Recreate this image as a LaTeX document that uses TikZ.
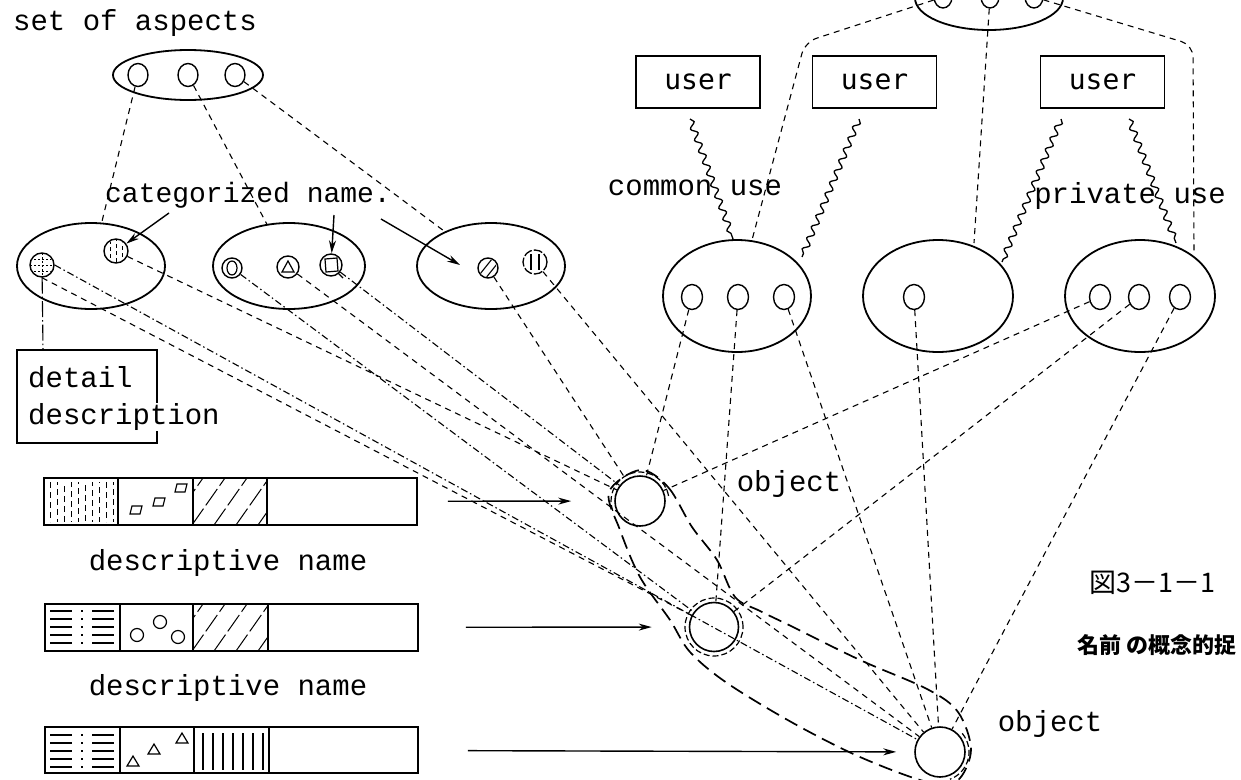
\documentclass[tikz,border=0pt]{standalone}
\usepackage{fontspec}
\setmonofont{Liberation Mono}
\newfontfamily\usrfont{DejaVu Sans Mono}
\newfontfamily\jpfont{Noto Sans CJK JP}
\usetikzlibrary{shapes.geometric,decorations.pathmorphing,arrows.meta,calc}
\begin{document}
\begin{tikzpicture}[x=1pt,y=-1pt,
  bigell/.style={ellipse, draw, line width=1.8pt, inner sep=0pt},
  smell/.style={ellipse, draw, line width=1.4pt, inner sep=0pt},
  smcirc/.style={circle, draw, line width=1.4pt, inner sep=0pt},
  ubox/.style={draw, line width=1.6pt, inner sep=0pt},
  lbl/.style={font=\ttfamily\fontsize{29}{31}\selectfont, inner sep=0pt},
  dsh/.style={line width=1.1pt, dash pattern=on 6pt off 5pt},
  dshdot/.style={line width=1.1pt, dash pattern=on 7pt off 3pt on 1.5pt off 3pt},
  sdsh/.style={line width=1.2pt, dash pattern=on 6pt off 3pt},
  ldsh/.style={line width=1.7pt, dash pattern=on 14pt off 7pt},
  wav/.style={line width=1.3pt, decorate, decoration={snake, amplitude=3pt, segment length=12pt}},
  arw/.style={line width=1.4pt, -{Stealth[length=13pt, width=7pt]}}
]
\useasboundingbox (0,0) rectangle (1241,779);
\fill[white] (0,0) rectangle (1241,779);
\clip (0,0) rectangle (1241,779);

% ---------- left: aspects ----------
\node[lbl] (tset) at (135,23) {set of aspects};
\node[bigell, minimum width=150pt, minimum height=50pt] (A) at (188,75) {};
\foreach \n/\x in {a1/138,a2/188,a3/235}
  \node[smell, minimum width=20pt, minimum height=23pt] (\n) at (\x,75) {};

\node[bigell, minimum width=148pt, minimum height=86pt] (E1) at (91,266) {};
\node[bigell, minimum width=152pt, minimum height=86pt] (E2) at (289,266) {};
\node[bigell, minimum width=148pt, minimum height=86pt] (E3) at (491,266) {};

\draw[dsh] (a1) -- (E1);
\draw[dsh] (a2) -- (E2);
\draw[dsh] (a3) -- (E3);

% small categorized symbols
\node[smcirc, minimum size=24pt] (p1) at (42,265) {};
\begin{scope}
  \clip (42,265) circle[radius=11pt];
  \foreach \y in {259,265,271}
    \draw[line width=1pt, dash pattern=on 2pt off 2pt] (30,\y) -- (54,\y);
  \draw[line width=1pt, dash pattern=on 2pt off 2pt] (42,253) -- (42,277);
\end{scope}
\node[smcirc, minimum size=24pt] (p2) at (116,251) {};
\begin{scope}
  \clip (116,251) circle[radius=11pt];
  \foreach \x/\ph in {110/0,116/3,122/1}
    \draw[line width=1pt, dash pattern=on 4pt off 3pt, dash phase=\ph pt] (\x,240) -- (\x,262);
\end{scope}
\node[smcirc, minimum size=20pt] (q1) at (232,268) {};
\draw[line width=1.2pt] (232,268) ellipse[x radius=5pt, y radius=7pt];
\node[smcirc, minimum size=22pt] (q2) at (288,267) {};
\draw[line width=1.2pt] (282,272) -- (294,272) -- (288,261) -- cycle;
\node[smcirc, minimum size=22pt] (q3) at (331,265) {};
\draw[line width=1.2pt] (325,259) -- (337,258) -- (338,271) -- (326,272) -- cycle;
\draw[line width=1.1pt] (338,273) -- (343,278);
\node[smcirc, minimum size=20pt] (s1) at (488,268) {};
\begin{scope}
  \clip (488,268) circle[radius=9pt];
  \draw[line width=1.1pt] (480,274) -- (492,259);
  \draw[line width=1.1pt] (485,279) -- (497,264);
\end{scope}
\node[circle, draw, line width=1.3pt, inner sep=0pt, minimum size=24pt, dash pattern=on 9pt off 2pt] (s2) at (535,262) {};
\draw[line width=1.1pt] (531,254) -- (531,270) (539,254) -- (539,270);

\node[lbl, font=\ttfamily\fontsize{28}{30}\selectfont] (tcat) at (248,195) {categorized name.};
\coordinate (k1) at (169,213);
\coordinate (k2) at (334,215);
\coordinate (k3) at (381,219);
\coordinate (k3e) at (460,265);
\draw[arw] (k1) -- (p2);
\draw[arw] (k2) -- (q3);
\draw[arw] (k3) -- (k3e);

% detail description
\node[ubox, minimum width=140pt, minimum height=93pt] (D) at (87,396.5) {};
\node[lbl, anchor=west] (tdet) at (28,377) {detail};
\node[lbl, anchor=west, fill=white] (tdesc) at (28,417) {description};
\coordinate (dtop) at (43,350);
\draw[line width=1.1pt, dash pattern=on 16pt off 3pt on 1.5pt off 3pt] (p1) -- (dtop);

% ---------- descriptive name bars ----------
\node[ubox, minimum width=373pt, minimum height=47pt] (B1) at (230.5,501.5) {};
\draw[line width=1.4pt] (118,478) -- (118,525) (193,478) -- (193,525) (267,478) -- (267,525);
\foreach \x/\ph in {50/0,57/3,64/6,71/1,78/4,85/7,92/2,99/5,106/0,113/3}
  \draw[line width=1pt, dash pattern=on 6pt off 4pt, dash phase=\ph pt] (\x,482) -- (\x,522);
\foreach \x/\y in {136/510,159/502,181/488}
  \draw[line width=1.2pt] (\x-6,\y+4) -- (\x+4,\y+4) -- (\x+6,\y-4) -- (\x-4,\y-4) -- cycle;
\begin{scope}
  \clip (193,478) rectangle (267,525);
  \foreach \x in {170,192,214,236,258}
    \draw[line width=1pt, dash pattern=on 20pt off 4pt] (\x,525) -- (\x+33,478);
\end{scope}
\node[lbl] (tdn1) at (228,563) {descriptive name};

\node[ubox, minimum width=373pt, minimum height=47pt] (B2) at (231.5,627.5) {};
\draw[line width=1.4pt] (120,604) -- (120,651) (193,604) -- (193,651) (268,604) -- (268,651);
\foreach \y in {611,619,627,635,643} {
  \draw[line width=1.2pt] (50,\y) -- (72,\y) (92,\y) -- (114,\y);
  \draw[line width=1.6pt] (81,\y) -- (83,\y);
}
\foreach \x/\y in {137/635,160/622,178/637}
  \draw[line width=1.2pt] (\x,\y) circle[radius=6.5pt];
\begin{scope}
  \clip (193,604) rectangle (268,651);
  \foreach \x in {170,192,214,236,258}
    \draw[line width=1pt, dash pattern=on 20pt off 4pt] (\x,651) -- (\x+33,604);
\end{scope}
\node[lbl] (tdn2) at (228,688) {descriptive name};

\node[ubox, minimum width=373pt, minimum height=46pt] (B3) at (231.5,750) {};
\draw[line width=1.4pt] (120,727) -- (120,773) (194,727) -- (194,773) (269,727) -- (269,773);
\foreach \y in {735,743,751,759,767} {
  \draw[line width=1.2pt] (50,\y) -- (72,\y) (92,\y) -- (114,\y);
  \draw[line width=1.6pt] (81,\y) -- (83,\y);
}
\foreach \x/\y in {133/761,154/749,182/738}
  \draw[line width=1.2pt] (\x-6,\y+5) -- (\x+6,\y+5) -- (\x,\y-5) -- cycle;
\foreach \x in {203,213,...,263}
  \draw[line width=1.2pt] (\x,733) -- (\x,770);

% ---------- objects ----------
\node[circle, draw, line width=1.6pt, inner sep=0pt, minimum size=50pt] (O1) at (640,501) {};
\node[circle, draw, line width=1.6pt, inner sep=0pt, minimum size=49pt] (O2) at (714,627) {};
\node[circle, draw, line width=1.6pt, inner sep=0pt, minimum size=50pt] (O3) at (940,752) {};
\node[lbl] (tob1) at (789,484) {object};
\node[lbl] (tob2) at (1050,724) {object};

\draw[sdsh] ([shift={(10:29pt)}]O1.center) arc[start angle=10, end angle=200, radius=29pt];
\draw[sdsh] (O2.center) circle[radius=29pt];
\draw[sdsh] ([shift={(40:29pt)}]O3.center) arc[start angle=40, end angle=-70, radius=29pt];

\draw[ldsh] plot[smooth cycle, tension=0.55] coordinates {
  (640,470) (668,487) (692,527) (717,560) (735,597) (760,611) (793,627)
  (860,660) (927,689) (958,712) (971,750) (957,781) (927,782) (860,757)
  (793,723) (727,683) (690,652) (670,620) (640,577) (620,530) (609,492)};

\draw[arw, shorten <=30pt, shorten >=43pt] (B1) -- (O1);
\draw[arw, shorten <=47pt, shorten >=37pt] (B2) -- (O2);
\draw[arw, shorten <=49pt, shorten >=18pt] (B3) -- (O3);

% left-side links to objects
\draw[dsh] (p2) -- (O1);
\draw[dshdot] (q3) -- (O1);
\draw[dsh] (s1) -- (O1);
\draw[dsh] (p1.south) -- (O2);
\draw[dshdot] (q1) -- (O2);
\draw[dshdot] (p1.east) -- (O3);
\draw[dsh] (q2) -- (O3);
\draw[dsh] (s2) -- (O3);

% ---------- right: users ----------
\node[bigell, minimum width=148pt, minimum height=64pt] (T) at (989,-2) {};
\foreach \n/\x in {t1/943,t2/990,t3/1034}
  \node[smell, minimum width=18pt, minimum height=22pt] (\n) at (\x,-3) {};

\foreach \n/\x in {U1/698,U2/874.5,U3/1102.5}
  \node[ubox, minimum width=124pt, minimum height=52pt, font=\usrfont\fontsize{28}{30}\selectfont] (\n) at (\x,82) {user};

\node[bigell, minimum width=148pt, minimum height=112pt] (CE) at (737,296) {};
\node[bigell, minimum width=150pt, minimum height=112pt] (ME) at (938,296) {};
\node[bigell, minimum width=150pt, minimum height=112pt] (RE) at (1140,296) {};
\foreach \n/\x in {c1/692,c2/738,c3/784,m1/914,r1/1100,r2/1139,r3/1180}
  \node[smell, minimum width=21pt, minimum height=25pt] (\n) at (\x,297) {};

\node[lbl] (tcom) at (695,188) {common use};
\node[lbl] (tpri) at (1130,196) {private use};

\coordinate (w1s) at (690,119);
\coordinate (w1e) at (733,239);
\coordinate (w2s) at (859,119);
\coordinate (w2e) at (802,257);
\coordinate (w3s) at (1061,119);
\coordinate (w3e) at (1002,262);
\coordinate (w4s) at (1129,119);
\coordinate (w4e) at (1176,243);
\draw[wav] (w1s) -- (w1e);
\draw[wav] (w2s) -- (w2e);
\draw[wav] (w3s) -- (w3e);
\draw[wav] (w4s) -- (w4e);

\coordinate (cn1) at (805,42);
\coordinate (me1) at (974,243);
\coordinate (cn3) at (1193,45);
\coordinate (re1) at (1194,253);
\draw[dsh, rounded corners=12pt] (t1) -- (cn1) -- (CE);
\draw[dsh] (t2) -- (me1);
\draw[dsh, rounded corners=12pt] (t3) -- (cn3) -- (re1);

\draw[dsh] (c1) -- (O1);
\draw[dsh] (c2) -- (O2);
\draw[dsh] (c3) -- (O3);
\draw[dsh] (m1) -- (O3);
\draw[dsh] (r1) -- (O1);
\draw[dsh] (r2) -- (O2);
\draw[dsh] (r3) -- (O3);

% ---------- caption ----------
\node[font=\jpfont\fontsize{27}{29}\selectfont, inner sep=0pt] (fig) at (1152,583) {図3－1－1};
\node[font=\jpfont\bfseries\fontsize{22}{24}\selectfont, inner sep=0pt, anchor=west] (ttl) at (1077,645) {名前 の概念的捉};
\end{tikzpicture}
\end{document}
